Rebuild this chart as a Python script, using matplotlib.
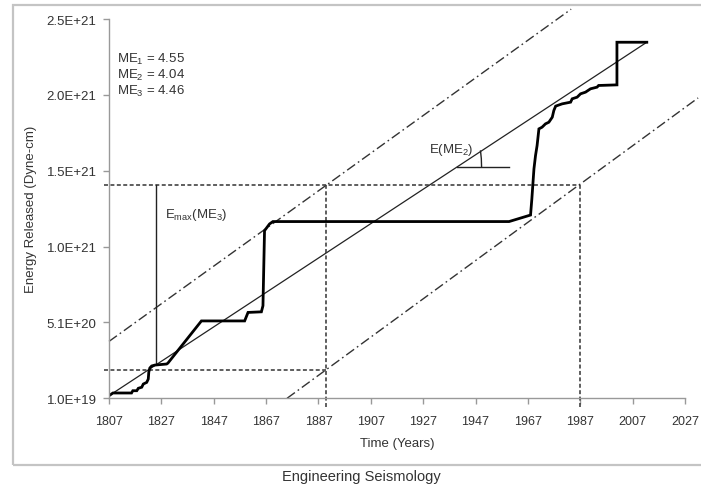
import numpy as np
import matplotlib.pyplot as plt
from matplotlib.patches import Rectangle
from matplotlib.ticker import FixedLocator, FuncFormatter

plt.rcParams['font.family'] = ['Liberation Sans', 'DejaVu Sans']
plt.rcParams['mathtext.fontset'] = 'custom'
plt.rcParams['mathtext.rm'] = 'Liberation Sans'
plt.rcParams['mathtext.it'] = 'Liberation Sans'

SCALE = 1e21  # energy values below are in units of 1e21 dyne-cm

# cumulative energy released
years = [1807.0, 1808.5, 1815.6, 1816.1, 1817.6, 1818.2, 1819.5, 1820.1, 1821.4,
         1822.0, 1822.2, 1822.6, 1823.3, 1824.5, 1829.0, 1829.5, 1842.3, 1858.8,
         1860.1, 1865.2, 1865.8, 1866.4, 1868.3, 1869.6, 1959.8, 1968.0, 1968.5,
         1969.3, 1969.9, 1970.5, 1971.2, 1972.4, 1973.7, 1975.0, 1976.3, 1976.9,
         1977.6, 1980.1, 1983.3, 1983.9, 1985.8, 1987.1, 1989.0, 1990.9, 1993.4,
         1994.0, 2001.0, 2001.0, 2012.4]
energy = [0.027, 0.045, 0.045, 0.060, 0.060, 0.076, 0.083, 0.104, 0.115,
          0.137, 0.183, 0.210, 0.223, 0.229, 0.236, 0.242, 0.520, 0.520,
          0.576, 0.580, 0.620, 1.115, 1.159, 1.175, 1.175, 1.218, 1.324,
          1.522, 1.610, 1.676, 1.786, 1.797, 1.819, 1.830, 1.863, 1.907,
          1.936, 1.951, 1.962, 1.984, 1.995, 2.017, 2.028, 2.050, 2.061,
          2.072, 2.076, 2.357, 2.357]

# mean release rate line and the +/- Emax bounds
mean_x = [1807.0, 2012.4]
mean_y = [0.027, 2.357]
upper_x = [1807.0, 1983.5]
upper_y = [0.385, 2.575]
lower_x = [1875.0, 2032.0]
lower_y = [0.010, 1.990]

# guide lines
e_high = 1.417
e_low = 0.195
t_low = 1890
t_high = 1987
t_emax = 1825
e_emax_base = 0.234

me_labels = [r"ME$_1$ = 4.55", r"ME$_2$ = 4.04", r"ME$_3$ = 4.46"]

y_ticks = [0.01, 0.51, 1.01, 1.51, 2.01, 2.51]
x_ticks = list(range(1807, 2028, 20))

FS = 9.5
TXT = '#333333'

fig = plt.figure(figsize=(7.01, 4.85), dpi=100)
ax = fig.add_axes([0.1555, 0.1767, 0.8217, 0.782])

# outer frame
fig.patches.append(Rectangle((0.0185, 0.039), 1.0, 0.9485, transform=fig.transFigure,
                             fill=False, edgecolor='#c4c4c4', linewidth=1.6))

S = lambda v: np.asarray(v) * SCALE

dash_dot = dict(color='#333333', linewidth=1.0, dashes=(7, 2.5, 1.2, 2.5), clip_on=False)
ax.plot(upper_x, S(upper_y), **dash_dot)
ax.plot(lower_x, S(lower_y), **dash_dot)

ax.plot(mean_x, S(mean_y), color='#222222', linewidth=0.9)

dashed = dict(color='#333333', linewidth=1.1, dashes=(2.6, 1.6), clip_on=False)
ax.plot([1805, t_high], S([e_high, e_high]), **dashed)
ax.plot([1805, t_low], S([e_low, e_low]), **dashed)
ax.plot([t_low, t_low], S([-0.05, e_high]), **dashed)
ax.plot([t_high, t_high], S([-0.05, e_high]), **dashed)

# Emax marker
ax.plot([t_emax, t_emax], S([e_emax_base, e_high]), color='#222222', linewidth=1.0)

ax.plot(years, S(energy), color='black', linewidth=2.0, solid_joinstyle='miter')

# slope marker for E(ME2)
ax.plot([1940.0, 1959.8], S([1.533, 1.533]), color='#222222', linewidth=1.0)
ax.plot([1949.3, 1949.2, 1948.9], S([1.533, 1.59, 1.64]), color='#222222', linewidth=1.0)

ax.text(1929.2, 1.651 * SCALE, r"E(ME$_2$)", fontsize=FS, color=TXT, va='center')
ax.text(1828.3, 1.223 * SCALE, r"E$_{max}$(ME$_3$)", fontsize=FS, color=TXT, va='center')
for i, lab in enumerate(me_labels):
    ax.text(1810.0, (2.25 - i * 0.105) * SCALE, lab, fontsize=FS, color=TXT, va='center')

ax.set_xlim(1807, 2027)
ax.set_ylim(0.01 * SCALE, 2.51 * SCALE)
ax.xaxis.set_major_locator(FixedLocator(x_ticks))
ax.yaxis.set_major_locator(FixedLocator(S(y_ticks)))
ax.yaxis.set_major_formatter(FuncFormatter(lambda v, p: f"{v:.1E}"))

for side in ['top', 'right']:
    ax.spines[side].set_visible(False)
for side in ['left', 'bottom']:
    ax.spines[side].set_color('#999999')
    ax.spines[side].set_linewidth(1.0)
ax.tick_params(axis='both', colors='#999999', labelcolor=TXT,
               length=4, width=1.0, direction='out')
ax.tick_params(axis='x', pad=8, labelsize=9)
ax.tick_params(axis='y', pad=5, labelsize=FS)

ax.set_xlabel("Time (Years)", fontsize=FS, color=TXT, labelpad=7)
ax.set_ylabel("Energy Released (Dyne-cm)", fontsize=FS, color=TXT, labelpad=7)

fig.text(0.515, 0.0165, "Engineering Seismology", fontsize=10.5, color=TXT,
         ha='center', va='center')

fig.savefig("out.png", dpi=100)
